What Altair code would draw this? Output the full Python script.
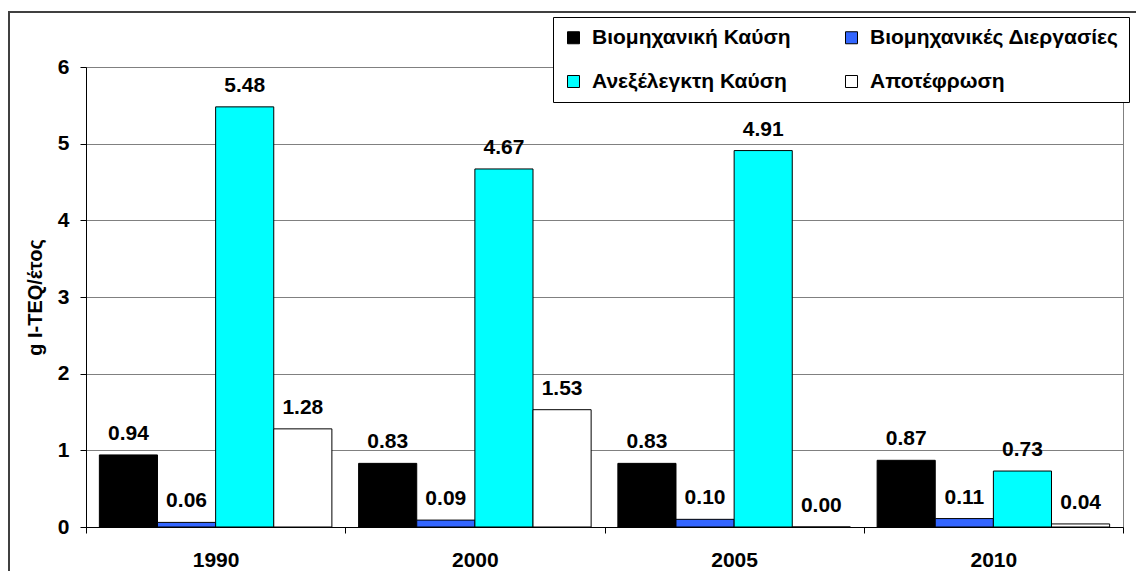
import altair as alt
import pandas as pd

# Dioxin emissions by source category (g I-TEQ per year)
years = ["1990", "2000", "2005", "2010"]
sources = [
    "Βιομηχανική Καύση",
    "Βιομηχανικές Διεργασίες",
    "Ανεξέλεγκτη Καύση",
    "Αποτέφρωση",
]
colors = ["#000000", "#3366FF", "#00FFFF", "#FFFFFF"]

industrial_combustion = [0.94, 0.83, 0.83, 0.87]
industrial_processes = [0.06, 0.09, 0.10, 0.11]
uncontrolled_combustion = [5.48, 4.67, 4.91, 0.73]
incineration = [1.28, 1.53, 0.00, 0.04]

series = [industrial_combustion, industrial_processes, uncontrolled_combustion, incineration]
rows = []
for name, vals in zip(sources, series):
    for yr, v in zip(years, vals):
        rows.append({"year": yr, "source": name, "value": v})
df = pd.DataFrame(rows)

# The legend grid fills column by column, so list the entries in that order
# to read across: row 1 = first two sources, row 2 = last two.
legend_order = [0, 2, 1, 3]
legend_domain = [sources[i] for i in legend_order]
legend_range = [colors[i] for i in legend_order]

FONT = "Arial"
TXT = 21

x_enc = alt.X(
    "year:N",
    sort=years,
    scale=alt.Scale(paddingInner=0, paddingOuter=0),
    axis=alt.Axis(
        title=None,
        labelAngle=0,
        tickBand="extent",
        labelFont=FONT,
        labelFontSize=TXT,
        labelFontWeight="bold",
        labelColor="black",
        labelPadding=16,
        tickSize=6,
        tickColor="black",
        domainColor="black",
        grid=False,
    ),
)
xoff_enc = alt.XOffset(
    "source:N", sort=sources, scale=alt.Scale(paddingInner=0, paddingOuter=0.23)
)
y_enc = alt.Y(
    "value:Q",
    scale=alt.Scale(domain=[0, 6], nice=False),
    axis=alt.Axis(
        title="g I-TEQ/έτος",
        values=[0, 1, 2, 3, 4, 5, 6],
        format="d",
        labelFont=FONT,
        labelFontSize=TXT,
        labelFontWeight="bold",
        labelColor="black",
        labelPadding=11,
        tickSize=6,
        tickColor="black",
        domainColor="black",
        grid=True,
        gridColor="#808080",
        gridWidth=1,
        titleFont=FONT,
        titleFontSize=20,
        titleFontWeight="bold",
        titleColor="black",
        titleAngle=270,
        titleAlign="center",
        titleBaseline="middle",
        titleX=-51,
        titleY=230,
    ),
)

bars = alt.Chart(df).mark_bar(stroke="black", strokeWidth=1).encode(
    x=x_enc,
    xOffset=xoff_enc,
    y=y_enc,
    color=alt.Color(
        "source:N",
        scale=alt.Scale(domain=legend_domain, range=legend_range),
        legend=alt.Legend(
            title=None,
            orient="none",
            legendX=467,
            legendY=-50,
            columns=2,
            columnPadding=50,
            rowPadding=22,
            padding=10,
            fillColor="white",
            strokeColor="black",
            symbolType="square",
            symbolSize=144,
            symbolStrokeColor="black",
            symbolStrokeWidth=1,
            symbolOpacity=1,
            labelFont=FONT,
            labelFontSize=TXT,
            labelFontWeight="bold",
            labelColor="black",
            labelOffset=8,
            labelLimit=400,
        ),
    ),
)

labels = alt.Chart(df).mark_text(
    dy=-15,
    baseline="alphabetic",
    align="center",
    font=FONT,
    fontSize=TXT,
    fontWeight="bold",
    color="black",
).encode(
    x=alt.X("year:N", sort=years),
    xOffset=alt.XOffset("source:N", sort=sources),
    y=alt.Y("value:Q"),
    text=alt.Text("value:Q", format=".2f"),
)

# Outer chart frame (left and top edges)
frame_src = alt.Data(values=[{}])
frame_left = alt.Chart(frame_src).mark_rule(color="#404040", strokeWidth=2).encode(
    x=alt.value(-77), y=alt.value(-56), y2=alt.value(700)
)
frame_top = alt.Chart(frame_src).mark_rule(color="#404040", strokeWidth=2).encode(
    y=alt.value(-55), x=alt.value(-78), x2=alt.value(1300)
)

chart = (
    alt.layer(bars, labels, frame_left, frame_top)
    .properties(
        width=1037,
        height=460,
        autosize=alt.AutoSizeParams(type="none"),
        padding={"left": 86, "top": 67, "right": 13, "bottom": 44},
        background="white",
    )
    .configure_view(stroke="#808080", strokeWidth=1)
    .configure_legend(labelFontWeight="bold")
)

chart.save("out.html", embed_options={"renderer": "svg", "actions": False})
